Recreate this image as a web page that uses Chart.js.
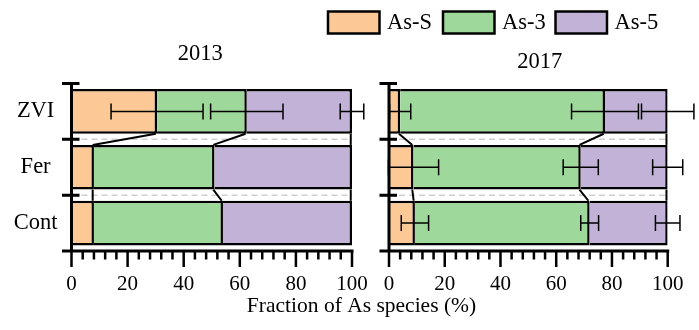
<!DOCTYPE html>
<html>
<head>
<meta charset="utf-8">
<script src="https://cdn.jsdelivr.net/npm/chart.js@4.4.0/dist/chart.umd.min.js"></script>
<style>
  html, body { margin: 0; padding: 0; background: #fff; }
  #wrap { position: relative; width: 699px; height: 330px; }
  #wrap canvas { position: absolute; left: 0; top: 0; }
</style>
</head>
<body>
<div id="wrap">
  <canvas id="c2013" width="699" height="330"></canvas>
  <canvas id="c2017" width="699" height="330"></canvas>
</div>
<script>
const categories = ["ZVI", "Fer", "Cont"];
const speciesNames = ["As-S", "As-3", "As-5"];
const xTicks = [0, 20, 40, 60, 80, 100];

// 2013, percent of each species (top to bottom: ZVI, Fer, Cont)
const asS2013 = [30.5, 8, 8];
const as3in2013 = [32, 43, 46];
const as5in2013 = [37.5, 49, 46];
const errS2013 = [16.4, 0, 0];
const err3in2013 = [12.9, 0, 0];
const err5in2013 = [4.2, 0, 0];

// 2017
const asS2017 = [4, 8.8, 9.3];
const as3in2017 = [73.5, 60, 62.7];
const as5in2017 = [22.5, 31.2, 28];
const errS2017 = [3.8, 9, 4.9];
const err3in2017 = [12, 6.3, 3.2];
const err5in2017 = [9.4, 5.4, 4.4];

const fills = ["#FCC996", "#9ED89B", "#C2B2D8"];
const serif = '"Times New Roman", "Liberation Serif", serif';

const panelPlugin = (title, titleX, titleY, errs) => ({
  id: "panel",
  beforeDatasetsDraw(chart) {
    const { ctx, chartArea: a, scales: { y } } = chart;
    ctx.save();
    ctx.strokeStyle = "#cfcfcf";
    ctx.lineWidth = 1.5;
    ctx.setLineDash([6, 4]);
    for (let i = 0; i < categories.length - 1; i++) {
      const py = y.getPixelForValue(i + 0.5);
      ctx.beginPath();
      ctx.moveTo(a.left, py);
      ctx.lineTo(a.right, py);
      ctx.stroke();
    }
    ctx.restore();
  },
  afterDatasetsDraw(chart) {
    const { ctx, scales: { x } } = chart;
    const sets = chart.data.datasets;
    ctx.save();
    ctx.strokeStyle = "#000";

    // lines joining the same boundary on neighbouring bars
    ctx.lineWidth = 2;
    sets.forEach((ds, d) => {
      const bars = chart.getDatasetMeta(d).data;
      for (let i = 0; i < bars.length - 1; i++) {
        const b0 = bars[i];
        const b1 = bars[i + 1];
        ctx.beginPath();
        ctx.moveTo(b0.x - 1.25, b0.y + b0.height / 2);
        ctx.lineTo(b1.x - 1.25, b1.y - b1.height / 2);
        ctx.stroke();
      }
    });

    // error bars at the cumulative end of each segment
    ctx.lineWidth = 1.5;
    sets.forEach((ds, d) => {
      const bars = chart.getDatasetMeta(d).data;
      errs[d].forEach((e, i) => {
        if (!e) return;
        let cum = 0;
        for (let k = 0; k <= d; k++) cum += sets[k].data[i];
        const x0 = x.getPixelForValue(cum - e);
        const x1 = x.getPixelForValue(cum + e);
        const cy = bars[i].y;
        ctx.beginPath();
        ctx.moveTo(x0, cy);
        ctx.lineTo(x1, cy);
        ctx.moveTo(x0, cy - 8);
        ctx.lineTo(x0, cy + 8);
        ctx.moveTo(x1, cy - 8);
        ctx.lineTo(x1, cy + 8);
        ctx.stroke();
      });
    });
    ctx.restore();
  },
  afterDraw(chart) {
    const { ctx, chartArea: a, scales: { x, y } } = chart;
    ctx.save();
    ctx.strokeStyle = "#000";
    ctx.lineWidth = 3;
    ctx.beginPath();
    ctx.moveTo(a.left, a.top - 1.5);
    ctx.lineTo(a.left, a.bottom);
    ctx.moveTo(a.left - 9.5, a.bottom);
    ctx.lineTo(a.right + 1.5, a.bottom);
    for (let i = 0; i < categories.length; i++) {
      const py = y.getPixelForValue(i - 0.5);
      ctx.moveTo(a.left - 9.5, py);
      ctx.lineTo(a.left + 8, py);
    }
    ctx.stroke();

    ctx.lineWidth = 2.5;
    ctx.beginPath();
    for (let v = 0; v <= 100; v += 4) {
      const px = x.getPixelForValue(v);
      ctx.moveTo(px, a.bottom);
      ctx.lineTo(px, a.bottom + (v % 20 === 0 ? 16 : 8.5));
    }
    ctx.stroke();

    ctx.fillStyle = "#000";
    ctx.font = `22.5px ${serif}`;
    ctx.textAlign = "center";
    ctx.textBaseline = "middle";
    ctx.fillText(title, titleX, titleY);
    ctx.restore();
  },
});

const figurePlugin = {
  id: "figure",
  afterDraw(chart) {
    const { ctx } = chart;
    const legendX = [328, 443, 555.5];
    ctx.save();
    ctx.font = `22.5px ${serif}`;
    ctx.textBaseline = "middle";
    ctx.textAlign = "left";
    legendX.forEach((lx, k) => {
      ctx.fillStyle = fills[k];
      ctx.fillRect(lx, 11.5, 51.5, 22);
      ctx.lineWidth = 2.5;
      ctx.strokeStyle = "#000";
      ctx.strokeRect(lx, 11.5, 51.5, 22);
      ctx.fillStyle = "#000";
      ctx.fillText(speciesNames[k], lx + 59, 23);
    });
    ctx.textAlign = "center";
    ctx.font = `21.5px ${serif}`;
    ctx.fillText("Fraction of As species (%)", 361.5, 306.5);
    ctx.restore();
  },
};

const makePanel = (id, series, errs, yWidth, padRight, showLabels, title, tx, ty, extra) =>
  new Chart(document.getElementById(id), {
    type: "bar",
    data: {
      labels: categories,
      datasets: series.map((vals, k) => ({
        label: speciesNames[k],
        data: vals,
        backgroundColor: fills[k],
        borderColor: "#000",
        borderWidth: { top: 2.5, bottom: 2.5, left: 0, right: 2.5 },
        borderSkipped: false,
        barPercentage: 0.8,
        categoryPercentage: 1,
      })),
    },
    options: {
      indexAxis: "y",
      responsive: false,
      animation: false,
      devicePixelRatio: 1,
      layout: { padding: { top: 83.5, right: padRight, bottom: 0, left: 0 } },
      plugins: {
        legend: { display: false },
        tooltip: { enabled: false },
      },
      scales: {
        x: {
          stacked: true,
          min: 0,
          max: 100,
          afterBuildTicks: (s) => {
            s.ticks = xTicks.map((v) => ({ value: v }));
          },
          ticks: {
            autoSkip: false,
            maxRotation: 0,
            padding: 21,
            color: "#000",
            font: { family: serif, size: 21 },
          },
          grid: { display: false, drawTicks: false },
          border: { display: false },
          afterFit: (s) => {
            s.height = 79;
            s.paddingLeft = 0;
            s.paddingRight = 0;
          },
        },
        y: {
          stacked: true,
          ticks: {
            display: showLabels,
            crossAlign: "center",
            padding: 14,
            color: "#000",
            font: { family: serif, size: 22.5 },
          },
          grid: { display: false, drawTicks: false },
          border: { display: false },
          afterFit: (s) => {
            s.width = yWidth;
          },
        },
      },
    },
    plugins: [panelPlugin(title, tx, ty, errs)].concat(extra),
  });

makePanel(
  "c2013",
  [asS2013, as3in2013, as5in2013],
  [errS2013, err3in2013, err5in2013],
  71.5, 347, true, "2013", 200.3, 54.5, []
);
makePanel(
  "c2017",
  [asS2017, as3in2017, as5in2017],
  [errS2017, err3in2017, err5in2017],
  389, 31.3, false, "2017", 539.7, 62, [figurePlugin]
);
</script>
</body>
</html>
